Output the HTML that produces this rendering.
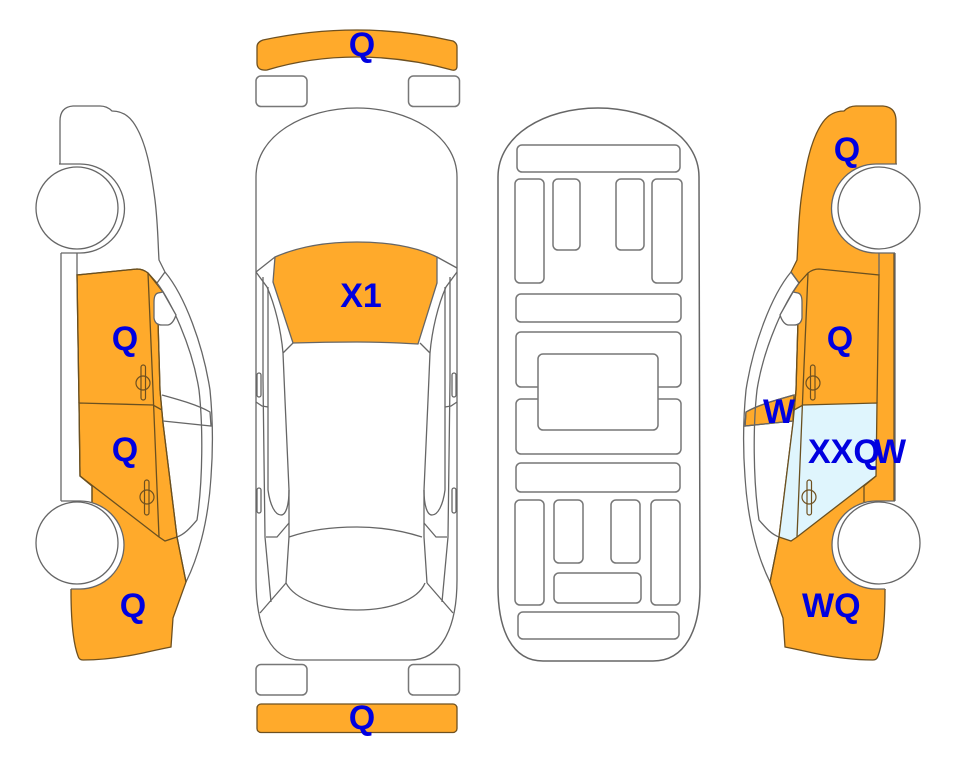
<!DOCTYPE html>
<html>
<head>
<meta charset="utf-8">
<style>
html,body{margin:0;padding:0;background:#fff;width:963px;height:768px;overflow:hidden}
svg{display:block;position:absolute;left:0;top:0}
.l{fill:none;stroke:#666;stroke-width:1.3}
.b{fill:none;stroke:#6a5020;stroke-width:1.3}
.r{fill:#fff;stroke:#777;stroke-width:1.5}
.o{fill:#ffaa2b;stroke:#6e5020;stroke-width:1.3}
.d{fill:none;stroke:#6e5020;stroke-width:1.2}
text{font-family:"Liberation Sans",Arial,sans-serif;font-weight:bold;font-size:34px;fill:#0000e0}
</style>
</head>
<body>
<svg width="963" height="768" viewBox="0 0 963 768" xmlns="http://www.w3.org/2000/svg">
<defs>
  <g id="base">
    <circle cx="80" cy="208.5" r="44.5" fill="#fff"/>
    <rect x="59" y="164" width="21" height="89" fill="#fff"/>
    <circle cx="80" cy="545" r="44" fill="#fff"/>
    <rect x="61" y="501" width="19" height="88" fill="#fff"/>
  </g>
  <g id="lines">
    <path class="l" d="M165,272 C185,296 203,345 210,390 C213,420 213,450 211,477 C208,525 197,560 186,582"/>
    <path class="l" d="M165,272 L157,283 C170,300 192,345 199,390 C203,425 203,480 197,520 C190,528 185,534 177,537"/>
    <path class="l" d="M61,253 L61,501 M77,253 L77,275"/>
    <path class="b" d="M177,537 L165,541 L159,537 L80,476 L79,403 L153,405 L162,410"/>
    <path class="b" d="M157,283 L148,273 Q143,269 137,269 L77,275 L79,403 M148,273 L153,390 L159,537"/>
    <path class="b" d="M163,292 L158,300 L158,320 L160,390 L163,423 L177,537 L186,582"/>
    <path class="b" d="M80,476 L92,486 L92,502"/>
    <path class="l" d="M162,395 C180,400 198,405 210,412 L211,426 L163,421"/>
    <path class="l" d="M59,164 L80,164 A44.5,44.5 0 0 1 80,253 L61,253"/>
    <path class="l" d="M61,501 L80,501 A44,44 0 0 1 80,589 L71,589"/>
    <path class="l" style="fill:#fff" d="M158,293 Q154,294 154,302 L154,318 Q155,325 162,325 L168,325 Q173,324 176,315 L163,292 Z"/>
    <circle class="l" style="fill:#fff" cx="77" cy="208" r="41"/>
    <circle class="l" style="fill:#fff" cx="77" cy="543" r="41"/>
    <rect class="d" x="141" y="365" width="4.5" height="35" rx="2.2"/>
    <circle class="d" cx="143" cy="383" r="7"/>
    <rect class="d" x="144.5" y="480" width="4.5" height="35" rx="2.2"/>
    <circle class="d" cx="147" cy="497" r="7"/>
  </g>
</defs>

<!-- left car -->
<path class="l" d="M60,165 L60,121 Q60,107 73,106 L100,106 Q107,106 112,111 Q125,111 133,122 C146,140 151,170 155,200 C158,225 158,245 159,260 L165,272"/>
<path class="o" d="M77,275 L137,269 Q143,269 148,273 L163,292 L158,300 L158,320 L160,390 L163,423 L177,537 L186,582 L173,618 L171,647 Q156,650 143,653 Q110,660 83,660 Q79,660 78,656 C72,640 71,610 71,590 L71,560 L92,502 L92,486 L80,476 L79,403 Z"/>
<use href="#base"/>
<use href="#lines"/>

<!-- right car -->
<g transform="translate(956,0) scale(-1,1)">
  <path class="o" d="M62,540 L62,253 L60,200 L60,121 Q60,107 73,106 L100,106 Q107,106 112,111 Q125,111 133,122 C146,140 151,170 155,200 C158,225 158,245 159,260 L165,272 L157,283 L163,292 L158,300 L158,320 L160,390 L163,423 L177,537 L186,582 L173,618 L171,647 Q156,650 143,653 Q110,660 83,660 Q79,660 78,656 C72,640 71,610 71,590 Z"/>
  <path fill="#dff5fd" d="M79,403 L153,405 L162,410 L177,537 L165,541 L159,537 L80,476 Z"/>
  <path class="o" d="M162,395 C180,400 198,405 210,412 L211,426 L163,421 Z"/>
  <use href="#base"/>
  <use href="#lines"/>
</g>

<!-- top view -->
<path class="o" d="M257,47 Q257,42 263,40 Q310,30 357,30 Q405,30 453,41 Q457,43 457,47 L457,66 Q457,71 452,70 Q405,57 357,57 Q310,57 267,70 Q257,71 257,63 Z"/>
<rect class="r" x="256" y="76" width="51" height="30.5" rx="5"/>
<rect class="r" x="408.5" y="76" width="51" height="30.5" rx="5"/>
<rect class="r" x="256" y="664.5" width="51" height="30.5" rx="5"/>
<rect class="r" x="408.5" y="664.5" width="51" height="30.5" rx="5"/>
<rect class="o" x="257" y="704" width="200" height="28.5" rx="4"/>

<path class="l" d="M256,177 C256,135 305,108 357,108 C408,108 457,135 457,177 L457,580 C457,630 440,660 410,660 L300,660 C272,660 256,630 256,580 Z"/>
<path fill="#ffaa2b" stroke="#666" stroke-width="1.3" d="M275,257 C300,246 330,242 357,242 C385,242 415,246 437,257 L437,283 L418,344 Q385,342 357,342 Q325,342 293,343 L273,282 Z"/>
<path class="l" d="M256,272 L275,257 M457,268 L437,257"/>
<g id="topside">
  <path class="l" d="M256,272 L267,287 C275,305 281,330 283,353 L293,343 M283,353 L285,400 L289,490 L289,537 L286,583"/>
  <path class="l" d="M263,277 L263,380 L265,537 L271,602"/>
  <path class="l" d="M268,287 L268,490 C270,505 275,515 281,515 C286,515 289,505 289,490"/>
  <path class="l" d="M266,537 L277,537 L289,523"/>
  <path class="l" d="M260,613 L286,583"/>
  <path class="l" d="M256,402 L262,406 L268,407"/>
  <rect class="l" x="257" y="373" width="4" height="24" rx="2"/>
  <rect class="l" x="257" y="488" width="4" height="25" rx="2"/>
</g>
<use href="#topside" transform="translate(713,0) scale(-1,1)"/>
<path class="l" d="M289,537 C310,530 330,527 357,527 C380,527 400,530 422,537"/>
<path class="l" d="M286,583 C295,600 325,610 357,610 C390,610 418,600 425,583"/>

<!-- bottom view -->
<path class="l" style="stroke-width:1.5" d="M498,177 C498,135 545,108 598,108 C650,108 699,135 699,177 L700,587 C700,630 685,661 653,661 L543,661 C512,661 498,630 498,587 Z"/>
<rect class="r" x="517" y="145" width="163" height="27" rx="5"/>
<rect class="r" x="515" y="179" width="29" height="104" rx="5"/>
<rect class="r" x="553" y="179" width="27" height="71" rx="5"/>
<rect class="r" x="616" y="179" width="28" height="71" rx="5"/>
<rect class="r" x="652" y="179" width="30" height="104" rx="5"/>
<rect class="r" x="516" y="294" width="165" height="28" rx="5"/>
<rect class="r" x="516" y="332" width="165" height="55" rx="5"/>
<rect class="r" x="516" y="399" width="165" height="55" rx="5"/>
<rect class="r" x="538" y="354" width="120" height="76" rx="5"/>
<rect class="r" x="516" y="463" width="164" height="29" rx="5"/>
<rect class="r" x="515" y="500" width="29" height="105" rx="5"/>
<rect class="r" x="554" y="500" width="29" height="63" rx="5"/>
<rect class="r" x="611" y="500" width="29" height="63" rx="5"/>
<rect class="r" x="651" y="500" width="29" height="105" rx="5"/>
<rect class="r" x="554" y="573" width="87" height="30" rx="5"/>
<rect class="r" x="518" y="612" width="161" height="27" rx="5"/>

<!-- labels -->
<text x="362" y="56" text-anchor="middle">Q</text>
<text x="362" y="729" text-anchor="middle">Q</text>
<text x="361" y="307" text-anchor="middle">X1</text>
<text x="125" y="350" text-anchor="middle">Q</text>
<text x="125" y="461" text-anchor="middle">Q</text>
<text x="133" y="617" text-anchor="middle">Q</text>
<text x="847" y="161" text-anchor="middle">Q</text>
<text x="840" y="350" text-anchor="middle">Q</text>
<text x="779" y="423" text-anchor="middle">W</text>
<text x="808" y="463">XXQ</text>
<text x="890" y="463" text-anchor="middle">W</text>
<text x="802" y="617">WQ</text>
</svg>
</body>
</html>
